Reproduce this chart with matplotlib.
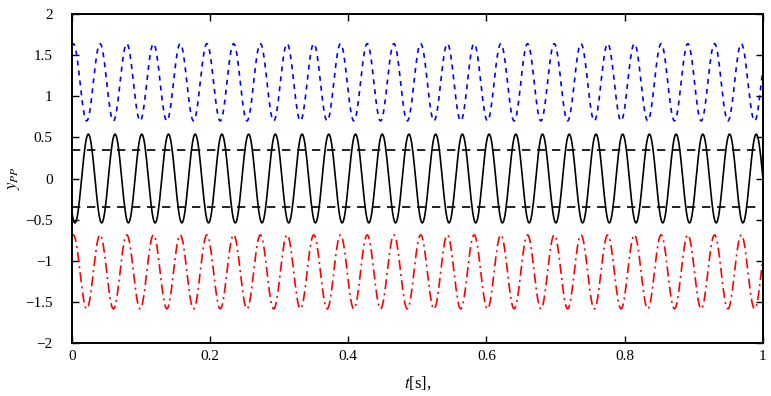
import numpy as np
import matplotlib
matplotlib.use("Agg")
from matplotlib import pyplot as plt

plt.rcParams['font.family'] = ['Liberation Serif', 'DejaVu Serif']
plt.rcParams['mathtext.fontset'] = 'stix'

# sinusoid parameters
freq_hz = 25.85
t = np.arange(0, 1.0005, 0.001)

upper_offset, upper_amp, upper_peak_t = 1.17, 0.47, 0.0019
mid_offset, mid_amp, mid_peak_t = 0.0, 0.54, 0.0236
lower_offset, lower_amp, lower_peak_t = -1.135, 0.45, 0.0019
limits = [0.35, -0.35]

y_upper = upper_offset + upper_amp * np.cos(2 * np.pi * freq_hz * (t - upper_peak_t))
y_mid = mid_offset + mid_amp * np.cos(2 * np.pi * freq_hz * (t - mid_peak_t))
y_lower = lower_offset + lower_amp * np.cos(2 * np.pi * freq_hz * (t - lower_peak_t))

fig = plt.figure(figsize=(7.71, 3.96), dpi=100)
ax = fig.add_axes([0.0934, 0.1338, 0.8958, 0.8308])

ax.plot(t, y_upper, color='blue', linestyle=(0, (3, 3)), linewidth=1.2)
ax.plot(t, y_mid, color='black', linestyle='-', linewidth=1.2)
ax.plot(t, y_lower, color='red', linestyle=(0, (6, 2.5, 1.2, 2.5)), linewidth=1.2)
for lim in limits:
    ax.axhline(lim, color='black', linestyle=(0, (5, 4)), linewidth=1.2)

ax.set_xlim(0, 1)
ax.set_ylim(-2, 2)
ax.set_xticks([0, 0.2, 0.4, 0.6, 0.8, 1])
ax.set_xticklabels(['0', '0.2', '0.4', '0.6', '0.8', '1'])
ax.set_yticks(np.arange(-2, 2.01, 0.5))
ax.set_yticklabels(['\u22122', '\u22121.5', '\u22121', '\u22120.5', '0', '0.5', '1', '1.5', '2'])
ax.tick_params(direction='in', top=True, right=True, labelsize=11, length=5, width=1)
ax.tick_params(axis='y', pad=14)
ax.tick_params(axis='x', pad=5)
for s in ax.spines.values():
    s.set_linewidth(1.4)

ax.set_xlabel(r'$t$[s],', fontsize=12, labelpad=8)
ax.set_ylabel(r'$y_{PP}$', fontsize=12, labelpad=2)

fig.savefig('out.png', dpi=100)
